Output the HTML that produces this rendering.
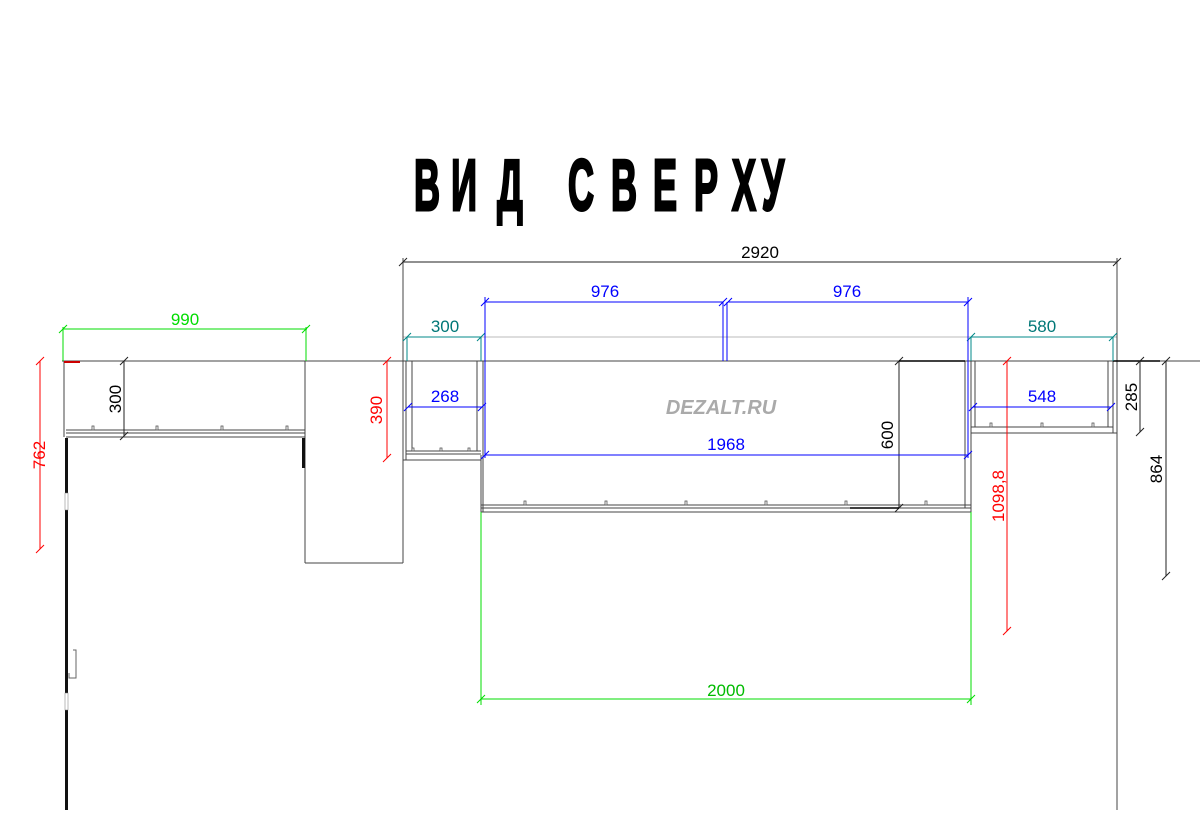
<!DOCTYPE html>
<html><head><meta charset="utf-8"><style>
html,body{margin:0;padding:0;background:#fff;width:1200px;height:831px;overflow:hidden}
svg{display:block}
text{font-family:"Liberation Sans",sans-serif}
</style></head><body>
<svg width="1200" height="831" viewBox="0 0 1200 831" xmlns="http://www.w3.org/2000/svg">
<g font-family="Liberation Sans Narrow, Liberation Sans, sans-serif" font-weight="bold" font-size="72" text-anchor="middle" fill="#000" stroke="#000" stroke-width="3">
<text transform="translate(427,210) scale(0.5,1)">В</text>
<text transform="translate(464,210) scale(0.5,1)">И</text>
<text transform="translate(510,210) scale(0.5,1)">Д</text>
<text transform="translate(581,210) scale(0.5,1)">С</text>
<text transform="translate(624,210) scale(0.5,1)">В</text>
<text transform="translate(665,210) scale(0.5,1)">Е</text>
<text transform="translate(706,210) scale(0.5,1)">Р</text>
<text transform="translate(744,210) scale(0.5,1)">Х</text>
<text transform="translate(773,210) scale(0.5,1)">У</text>
</g>

<g fill="none" stroke="#444" stroke-width="1">
<line x1="62" y1="361" x2="1200" y2="361"/>
<line x1="403" y1="337" x2="1117" y2="337" stroke="#bbb"/>
<line x1="403" y1="262" x2="1117" y2="262" stroke="#222"/>
<line x1="403" y1="258" x2="403" y2="460"/>
<line x1="1117" y1="258" x2="1117" y2="810"/>
<path d="M399,266 L407,258 M1113,266 L1121,258" stroke="#222"/>
<line x1="64" y1="361" x2="64" y2="437"/>
<line x1="305" y1="361" x2="305" y2="563"/>
<line x1="66" y1="430" x2="305" y2="430"/>
<line x1="66" y1="433" x2="305" y2="433"/>
<line x1="66" y1="437" x2="305" y2="437"/>
<line x1="305" y1="563" x2="403" y2="563"/>
<line x1="403" y1="460" x2="403" y2="563"/>
<line x1="124" y1="361" x2="124" y2="436" stroke="#222"/>
<path d="M120,365 L128,357 M120,440 L128,432" stroke="#222"/>
<line x1="406" y1="361" x2="406" y2="460"/>
<line x1="412" y1="361" x2="412" y2="451"/>
<line x1="477" y1="361" x2="477" y2="451"/>
<line x1="483" y1="361" x2="483" y2="512"/>
<line x1="406" y1="451" x2="481" y2="451"/>
<line x1="406" y1="454" x2="481" y2="454"/>
<line x1="403" y1="460" x2="481" y2="460"/>
<line x1="481" y1="455" x2="481" y2="512"/>
<line x1="481" y1="505" x2="971" y2="505"/>
<line x1="481" y1="508" x2="971" y2="508"/>
<line x1="481" y1="512" x2="971" y2="512"/>
<line x1="965" y1="361" x2="965" y2="508"/>
<line x1="971" y1="361" x2="971" y2="512"/>
<line x1="899" y1="361" x2="899" y2="508" stroke="#222"/>
<path d="M895,365 L903,357 M895,512 L903,504" stroke="#222"/>
<line x1="899" y1="361" x2="965" y2="361" stroke="#000" stroke-width="1.5"/>
<line x1="850" y1="508" x2="899" y2="508" stroke="#000" stroke-width="1.5"/>
<line x1="975" y1="361" x2="975" y2="427"/>
<line x1="1108" y1="361" x2="1108" y2="427"/>
<line x1="1113" y1="361" x2="1113" y2="433"/>
<line x1="971" y1="427" x2="1113" y2="427"/>
<line x1="971" y1="433" x2="1117" y2="433"/>
<line x1="1113" y1="361" x2="1160" y2="361" stroke="#000" stroke-width="1.5"/>
<line x1="1140" y1="361" x2="1140" y2="432" stroke="#222"/>
<path d="M1136,365 L1144,357 M1136,436 L1144,428" stroke="#222"/>
<line x1="1166" y1="361" x2="1166" y2="576" stroke="#222"/>
<path d="M1162,365 L1170,357 M1162,580 L1170,572" stroke="#222"/>
</g>
<g fill="#fff" stroke="#555" stroke-width="0.8">
<rect x="92" y="426" width="2" height="4"/><rect x="156" y="426" width="2" height="4"/><rect x="221" y="426" width="2" height="4"/><rect x="286" y="426" width="2" height="4"/>
<rect x="412" y="448" width="2" height="3"/><rect x="440" y="448" width="2" height="3"/><rect x="468" y="448" width="2" height="3"/>
<rect x="524" y="501" width="2" height="4"/><rect x="605" y="501" width="2" height="4"/><rect x="685" y="501" width="2" height="4"/><rect x="765" y="501" width="2" height="4"/><rect x="845" y="501" width="2" height="4"/><rect x="925" y="501" width="2" height="4"/>
<rect x="990" y="423" width="2" height="4"/><rect x="1041" y="423" width="2" height="4"/><rect x="1092" y="423" width="2" height="4"/>
</g>
<rect x="65" y="438" width="3" height="372" fill="#111"/>
<rect x="65" y="493" width="3" height="17" fill="#fff" stroke="#777" stroke-width="0.5"/>
<rect x="65" y="693" width="3" height="17" fill="#fff" stroke="#777" stroke-width="0.5"/>
<path d="M73,650 L76,650 L76,678 L69,678 L69,673" fill="none" stroke="#666"/>
<rect x="302" y="438" width="3" height="30" fill="#111"/>
<line x1="64" y1="362" x2="80" y2="362" stroke="#c00" stroke-width="2"/>

<g stroke="#f00" stroke-width="1" fill="none">
<line x1="40" y1="361" x2="40" y2="549"/>
<path d="M36,365 L44,357 M36,553 L44,545"/>
<line x1="387" y1="361" x2="387" y2="458"/>
<path d="M383,365 L391,357 M383,462 L391,454"/>
<line x1="1007" y1="361" x2="1007" y2="631"/>
<path d="M1003,365 L1011,357 M1003,635 L1011,627"/>
</g>
<g stroke="#0d0" stroke-width="1" fill="none">
<line x1="63" y1="329" x2="307" y2="329"/>
<line x1="63" y1="327" x2="63" y2="361"/><line x1="306" y1="327" x2="306" y2="361"/>
<path d="M59,333 L67,325 M302,333 L310,325"/>
<line x1="481" y1="699" x2="971" y2="699"/>
<line x1="481" y1="512" x2="481" y2="705"/><line x1="971" y1="512" x2="971" y2="705"/>
<path d="M477,703 L485,695 M967,703 L975,695"/>
</g>
<g stroke="#088" stroke-width="1" fill="none">
<line x1="407" y1="337" x2="481" y2="337"/>
<line x1="407" y1="337" x2="407" y2="361"/><line x1="481" y1="337" x2="481" y2="361"/>
<path d="M403,341 L411,333 M477,341 L485,333"/>
<line x1="971" y1="337" x2="1113" y2="337"/>
<line x1="971" y1="337" x2="971" y2="361"/><line x1="1113" y1="337" x2="1113" y2="361"/>
<path d="M967,341 L975,333 M1109,341 L1117,333"/>
</g>
<g stroke="#00f" stroke-width="1" fill="none">
<line x1="485" y1="302" x2="723" y2="302"/>
<line x1="728" y1="302" x2="968" y2="302"/>
<line x1="485" y1="297" x2="485" y2="458"/>
<line x1="723" y1="302" x2="723" y2="361"/><line x1="727" y1="302" x2="727" y2="361"/>
<line x1="968" y1="297" x2="968" y2="458"/>
<path d="M481,306 L489,298 M719,306 L727,298 M724,306 L732,298 M964,306 L972,298"/>
<line x1="408" y1="407" x2="482" y2="407"/>
<path d="M404,411 L412,403 M478,411 L486,403"/>
<line x1="485" y1="455" x2="968" y2="455"/>
<path d="M481,459 L489,451 M964,459 L972,451"/>
<line x1="973" y1="407" x2="1111" y2="407"/>
<path d="M969,411 L977,403 M1107,411 L1115,403"/>
</g>

<g font-size="17" text-anchor="middle">
<text x="760" y="258" fill="#000">2920</text>
<text x="185" y="325" fill="#0d0">990</text>
<text x="445" y="332" fill="#077">300</text>
<text x="605" y="297" fill="#00f">976</text>
<text x="847" y="297" fill="#00f">976</text>
<text x="1042" y="332" fill="#077">580</text>
<text x="445" y="402" fill="#00f">268</text>
<text x="1042" y="402" fill="#00f">548</text>
<text x="726" y="450" fill="#00f">1968</text>
<text x="726" y="696" fill="#0b0">2000</text>
<text transform="translate(121,399) rotate(-90)" fill="#000">300</text>
<text transform="translate(45,455) rotate(-90)" fill="#f00">762</text>
<text transform="translate(382,410) rotate(-90)" fill="#f00">390</text>
<text transform="translate(893,435) rotate(-90)" fill="#000">600</text>
<text transform="translate(1004,496) rotate(-90)" fill="#f00">1098,8</text>
<text transform="translate(1137,397) rotate(-90)" fill="#000">285</text>
<text transform="translate(1162,469) rotate(-90)" fill="#000">864</text>
</g>
<text x="721" y="414" font-size="20" font-weight="bold" font-style="italic" fill="#aaa" text-anchor="middle">DEZALT.RU</text>
</svg>
</body></html>
